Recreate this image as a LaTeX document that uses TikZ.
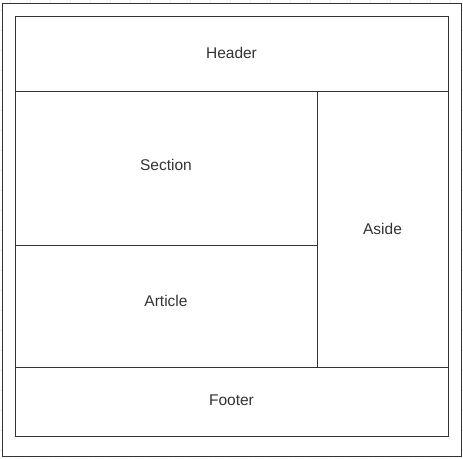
\documentclass[tikz,border=0pt]{standalone}
\usepackage{fontspec}
\setmainfont{Liberation Sans}
\definecolor{linec}{HTML}{333333}
\definecolor{textc}{HTML}{333333}
\definecolor{gridc}{HTML}{EBEBEB}
\begin{document}
\begin{tikzpicture}[x=1pt,y=-1pt,
  box/.style={draw=linec,line width=1pt},
  lbl/.style={text=textc,font=\fontsize{15.5}{18}\selectfont,inner sep=0pt,anchor=center}]
\useasboundingbox (0,0) rectangle (463,458);
\fill[white] (0,0) rectangle (463,458);
\foreach \i in {10,30,...,450} {
  \draw[gridc,line width=0.6pt] (\i,0) -- (\i,458);
}
\foreach \j in {10,30,...,450} {
  \draw[gridc,line width=0.6pt] (0,\j) -- (463,\j);
}
% outer frame
\draw[box,fill=white] (2.5,3) rectangle (461.5,456);
% layout regions
\node[box,minimum width=433pt,minimum height=75pt,inner sep=0pt,anchor=north west] (header) at (15,15.5) {};
\node[box,minimum width=302pt,minimum height=154pt,inner sep=0pt,anchor=north west] (section) at (15,90.5) {};
\node[box,minimum width=302pt,minimum height=122pt,inner sep=0pt,anchor=north west] (article) at (15,244.5) {};
\node[box,minimum width=131pt,minimum height=276pt,inner sep=0pt,anchor=north west] (aside) at (317,90.5) {};
\node[box,minimum width=433pt,minimum height=69pt,inner sep=0pt,anchor=north west] (footer) at (15,366.5) {};
% labels
\node[lbl] (tHeader) at (231.5,52.5) {Header};
\node[lbl] (tSection) at (166,164.5) {Section};
\node[lbl] (tArticle) at (166,300.5) {Article};
\node[lbl] (tAside) at (382.5,228.5) {Aside};
\node[lbl] (tFooter) at (231.5,400.5) {Footer};
\end{tikzpicture}
\end{document}
